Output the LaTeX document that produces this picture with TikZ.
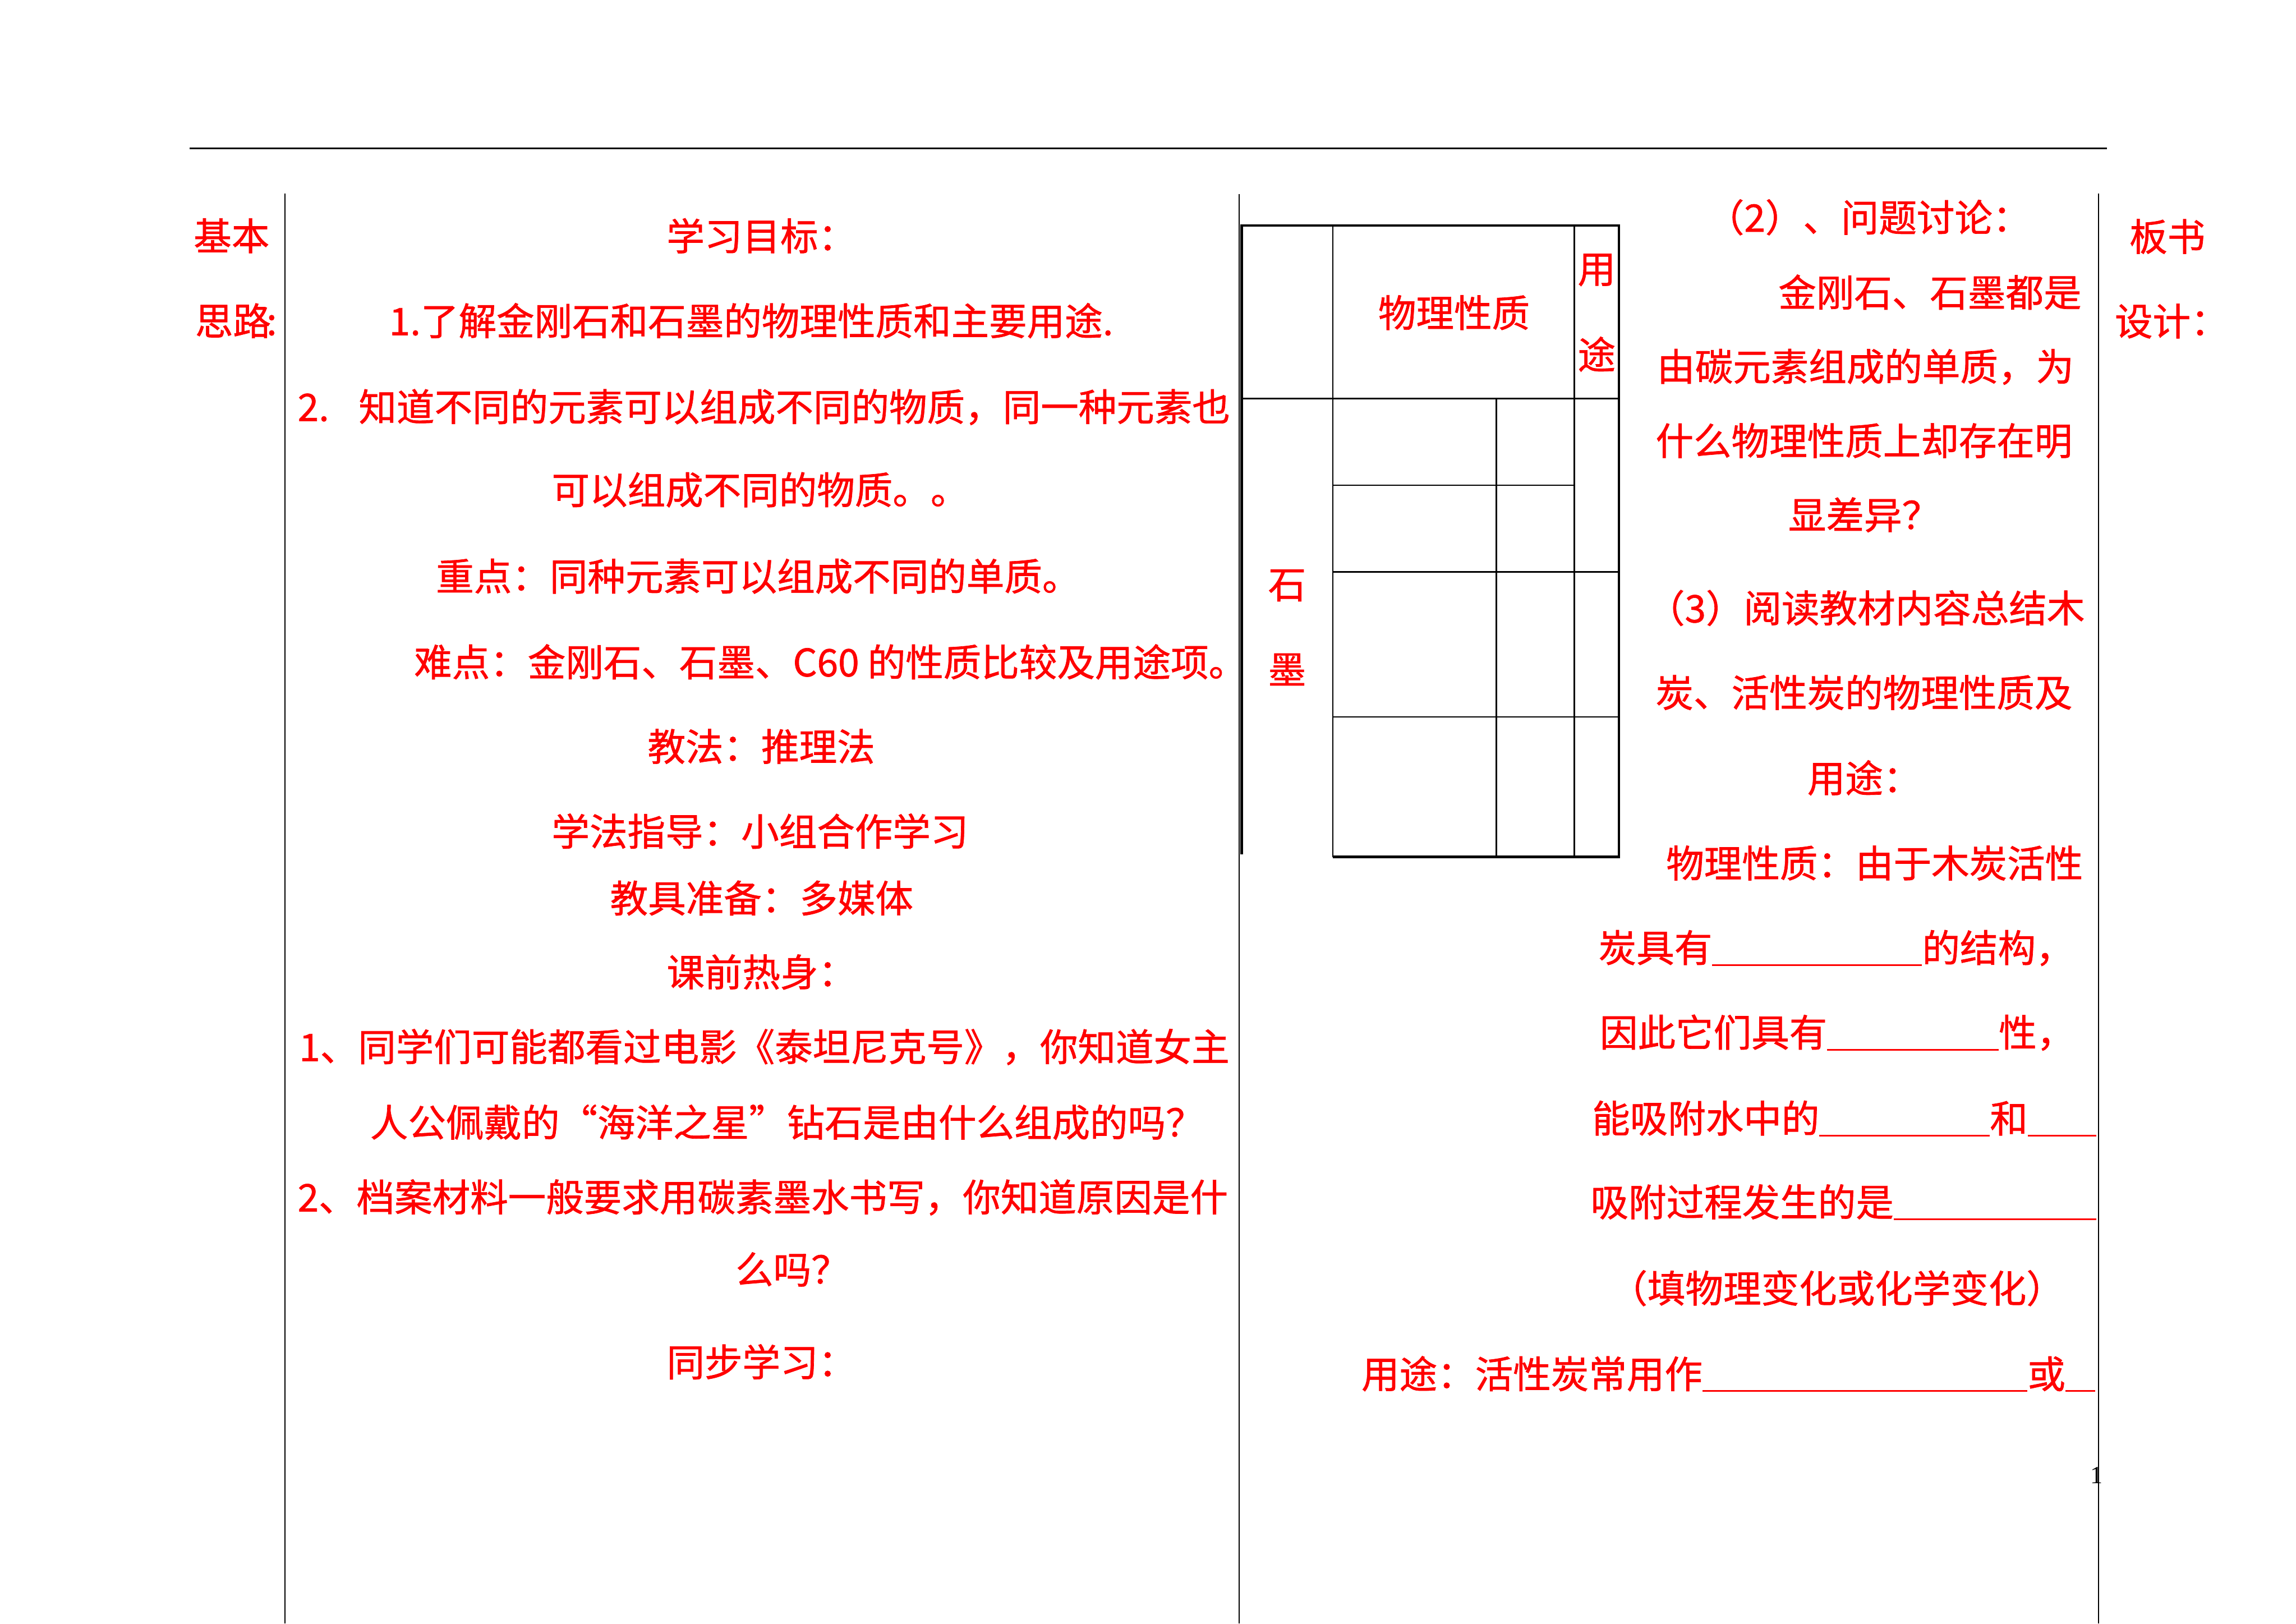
\documentclass[tikz,border=0pt]{standalone}
\usepackage{fontspec}
\setmainfont{Noto Sans CJK SC}[FakeBold=1]
\newfontfamily\fullwidth{Noto Sans CJK SC}[CharacterWidth=Full, FakeBold=1]
\newfontfamily\pagefont{Liberation Serif}
\newcommand{\fillblank}[1]{\rule[-.1em]{#1}{.8pt}}
\tikzset{
    every node/.style={inner sep=0pt, text=red,
        font=\fontsize{18.4}{22}\selectfont},
    textline/.style={anchor=west},
    textend/.style={anchor=east},
    rulethin/.style={line width=.55pt},
    cellline/.style={line width=.7pt},
    cellthick/.style={line width=1.2pt},
}

\begin{document}
\begin{tikzpicture}[x=.025cm, y=-.025cm]
    \useasboundingbox (0, 0) rectangle (1568, 1108.7);
    % page frame
    \draw[line width=.7pt] (129.6, 101.3) -- (1438.7, 101.3);
    \foreach \colx/\coltop in {194.5/132.2, 846.4/132.5}
        \draw[rulethin] (\colx, \coltop) -- (\colx, 1108.7);
    \node[text=black, font=\pagefont\fontsize{12}{14}\selectfont] (pagenum)
        at (1431.8, 1007.7) {1};
    \draw[rulethin] (1433, 132.2) -- (1433, 1108.7);

    \node[textline] (basic) at (132, 161) {基本};
    \node[textline] (idea) at (133, 219) {思路\kern-.12em:};
    \node[textline] (board) at (1454, 161.5) {板书};
    \node[textline] (design) at (1444, 219.3) {设计：};

    \node[textline] (goaltitle) at (455, 161) {学习目标：};
    \node[textline] (goalone) at (265.5, 219)
        {1.了解金刚石和石墨的物理性质和主要用途.};
    \node[textline] (goaltwo) at (203, 278)
        {2.\hspace{.78em}知道不同的元素可以组成不同的物质，同一种元素也};
    \node[textline] (goaltwob) at (376.5, 334.5) {可以组成不同的物质。。};
    \node[textline] (keypoint) at (297.5, 393.5)
        {重点：同种元素可以组成不同的单质。};
    \node[textline] (hardpoint) at (282.5, 452)
        {难点：金刚石、石墨、C60 的性质比较及用途项。};
    \node[textline] (method) at (442, 509.8) {教法：推理法};
    \node[textline] (guide) at (376.5, 567.6) {学法指导：小组合作学习};
    \node[textline] (tools) at (416.4, 613.3) {教具准备：多媒体};
    \node[textline] (warmup) at (455, 663.8) {课前热身：};
    \node[textline] (qone) at (204, 715)
        {1、同学们可能都看过电影《泰坦尼克号》，你知道女主};
    \node[textline] (qoneb) at (252.5, 766.4)
        {人公佩戴的{\fullwidth “}海洋之星{\fullwidth ”}钻石是由什么组成的吗？};
    \node[textline] (qtwo) at (203, 817.7)
        {2、档案材料一般要求用碳素墨水书写，你知道原因是什};
    \node[textline] (qtwob) at (502, 866.9) {么吗？};
    \node[textline] (sync) at (455, 930) {同步学习：};

    % table of graphite
    \draw[cellthick] (848, 583.6) -- (848, 153.9) -- (1105.7, 153.9)
        -- (1105.7, 585.2) -- (910.2, 585.2);
    \foreach \x in {910.2, 1075.1} \draw[cellline] (\x, 153.9) -- (\x, 585.2);
    \draw[cellline] (1021.9, 272.1) -- (1021.9, 585.2);
    \draw[cellline] (848, 272.1) -- (1105.7, 272.1);
    \draw[cellline] (910.2, 331.4) -- (1075.1, 331.4);
    \foreach \y in {390.6, 489.6} \draw[cellline] (910.2, \y) -- (1105.7, \y);
    \node (phys) at (993, 213.5) {物理性质};
    \node (useone) at (1090.4, 184.4) {用};
    \node (usetwo) at (1090.4, 241.9) {途};
    \node (graphone) at (879, 399.8) {石};
    \node (graphtwo) at (879, 457.2) {墨};

    \node[textline] (disctitle) at (1165, 148.4) {（2）、问题讨论：};
    \node (discone) at (1318, 199.5) {金刚石、石墨都是};
    \node (disctwo) at (1274, 250.5) {由碳元素组成的单质，为};
    \node (discthree) at (1273, 301) {什么物理性质上却存在明};
    \node[textline] (discfour) at (1221, 351.6) {显差异？};
    \node[textend] (readtitle) at (1424, 415.2) {（3）阅读教材内容总结木};
    \node (readone) at (1273, 472.9) {炭、活性炭的物理性质及};
    \node[textline] (readtwo) at (1234, 531.2) {用途：};
    \node (propone) at (1280.2, 589.4) {物理性质：由于木炭活性};
    \node[textline] (proptwo) at (1091.4, 647.4)
        {炭具有\fillblank{5.54em}的结构，};
    \node[textline] (propthree) at (1092.3, 705.2)
        {因此它们具有\fillblank{4.53em}性，};
    \node[textline] (propfour) at (1087, 763.8)
        {能吸附水中的\fillblank{4.5em}和\fillblank{1.81em}};
    \node[textline] (propfive) at (1086, 821)
        {吸附过程发生的是\fillblank{5.35em}};
    \node (propsix) at (1254.5, 879.7) {（填物理变化或化学变化）};
    \node[textline] (useline) at (929.5, 938.3)
        {用途：活性炭常用作\fillblank{8.58em}或\fillblank{.79em}};
\end{tikzpicture}
\end{document}
